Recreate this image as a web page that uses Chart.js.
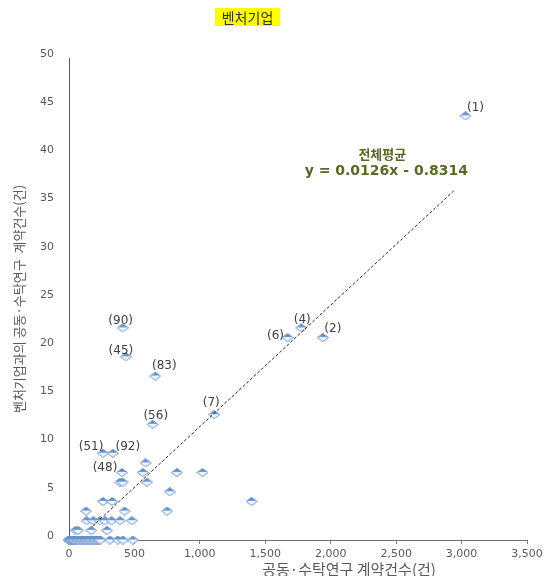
<!DOCTYPE html>
<html>
<head>
<meta charset="utf-8">
<script src="https://cdn.jsdelivr.net/npm/chart.js@4/dist/chart.umd.min.js"></script>
<style>
  html, body { margin: 0; padding: 0; background: #ffffff; }
  #wrap { width: 552px; height: 576px; }
</style>
</head>
<body>
<div id="wrap"><canvas id="chart" width="552" height="576"></canvas></div>
<script>
// Labelled institutions: total joint/commissioned contracts vs. contracts with venture firms
const labelledIds     = ['(1)', '(2)', '(4)', '(6)', '(7)', '(90)', '(45)', '(83)', '(56)', '(51)', '(92)', '(48)'];
const labelledTotal   = [3030, 1940, 1775, 1670, 1110, 410, 435, 660, 640, 260, 335, 405];
const labelledVenture = [44, 21, 22, 21, 13, 22, 19, 17, 12, 9, 9, 7];

// Remaining institutions
const otherTotal = [
  0, 0, 0, 5, 10, 15, 20, 25, 30, 35, 40, 50, 60, 70, 80, 90, 100, 110, 120, 130,
  140, 150, 160, 170, 180, 190, 200, 210, 220, 230, 240, 312, 373, 412, 488,
  50, 70, 170, 290,
  135, 185, 235, 275, 325, 390, 480,
  130, 425, 750,
  260, 330, 1395,
  770,
  390, 410, 595,
  565, 825, 1020,
  585
];
const otherVenture = [
  0, 0, 0, 0, 0, 0, 0, 0, 0, 0, 0, 0, 0, 0, 0, 0, 0, 0, 0, 0,
  0, 0, 0, 0, 0, 0, 0, 0, 0, 0, 0, 0, 0, 0, 0,
  1, 1, 1, 1,
  2, 2, 2, 2, 2, 2, 2,
  3, 3, 3,
  4, 4, 4,
  5,
  6, 6, 6,
  7, 7, 7,
  8
];

// Axis ticks
const xTicks = [0, 500, 1000, 1500, 2000, 2500, 3000, 3500];
const yTicks = [0, 5, 10, 15, 20, 25, 30, 35, 40, 45, 50];

// Overall trend: y = 0.0126x - 0.8314
const trendSlope = 0.0126;
const trendIntercept = -0.8314;
const trendStart = 180;
const trendEnd = 2950;

const chartTitle = '벤처기업';
const xTitle = '공동·수탁연구 계약건수(건)';
const yTitle = '벤처기업과의 공동·수탁연구  계약건수(건)';
const trendName = '전체평균';
const trendText = 'y = 0.0126x - 0.8314';

const CJK = '"Noto Sans CJK KR", "Noto Sans", sans-serif';
const LATIN = '"DejaVu Sans", Verdana, sans-serif';

// Label placement around each marker (pixels)
const labelOffsets = {
  '(1)': [10, -8], '(2)': [10, -9], '(4)': [1, -8], '(6)': [-12, -2], '(7)': [-3, -12],
  '(90)': [-2, -7], '(45)': [-5, -6], '(83)': [9, -10], '(56)': [3, -8],
  '(51)': [-12, -6], '(92)': [15, -6], '(48)': [-17, -5]
};

// Half-shaded diamond marker
function makeDiamond() {
  const w = 12, h = 9;
  const c = document.createElement('canvas');
  c.width = w; c.height = h;
  const g = c.getContext('2d');
  g.beginPath();
  g.moveTo(w / 2, 0.5);
  g.lineTo(w - 0.5, h / 2);
  g.lineTo(w / 2, h - 0.5);
  g.lineTo(0.5, h / 2);
  g.closePath();
  const grd = g.createLinearGradient(0, 0, 0, h);
  grd.addColorStop(0, '#4574b3');
  grd.addColorStop(0.5, '#7ea6d8');
  grd.addColorStop(0.5, '#eef4fb');
  grd.addColorStop(1, '#ffffff');
  g.fillStyle = grd;
  g.fill();
  g.strokeStyle = '#6b95cc';
  g.lineWidth = 1;
  g.stroke();
  return c;
}
const diamond = makeDiamond();

const toPoints = (xs, ys) => xs.map((x, i) => ({ x: x, y: ys[i] }));
const trendY = x => trendSlope * x + trendIntercept;

const annotations = {
  id: 'annotations',
  afterDatasetsDraw(chart) {
    const ctx = chart.ctx;
    const xs = chart.scales.x, ys = chart.scales.y;
    ctx.save();
    // point labels
    ctx.font = '12px ' + LATIN;
    ctx.fillStyle = '#404040';
    ctx.textAlign = 'center';
    ctx.textBaseline = 'middle';
    labelledIds.forEach((id, i) => {
      const px = xs.getPixelForValue(labelledTotal[i]);
      const py = ys.getPixelForValue(labelledVenture[i]);
      const off = labelOffsets[id] || [0, -8];
      ctx.fillText(id, px + off[0], py + off[1]);
    });
    // trend label
    const tx = xs.getPixelForValue(2425);
    const ty = ys.getPixelForValue(40);
    ctx.fillStyle = '#56692a';
    ctx.font = 'bold 13px ' + CJK;
    ctx.fillText(trendName, tx - 4, ty);
    ctx.font = 'bold 14px ' + LATIN;
    ctx.fillText(trendText, tx, ty + 17);
    ctx.restore();
  },
  afterDraw(chart) {
    const ctx = chart.ctx;
    ctx.save();
    // highlighted title
    ctx.font = '14px ' + CJK;
    const tw = ctx.measureText(chartTitle).width;
    const cx = 247.5, cy = 17;
    ctx.fillStyle = '#ffff00';
    ctx.fillRect(cx - tw / 2 - 7, cy - 9, tw + 14, 18);
    ctx.fillStyle = '#333333';
    ctx.textAlign = 'center';
    ctx.textBaseline = 'middle';
    ctx.fillText(chartTitle, cx, cy + 1);
    // x-axis title
    ctx.font = '15px ' + CJK;
    ctx.fillStyle = '#595959';
    ctx.fillText(xTitle, 349, 569);
    ctx.restore();
  }
};

new Chart(document.getElementById('chart'), {
  type: 'scatter',
  data: {
    datasets: [
      {
        label: 'trend',
        data: [{ x: trendStart, y: trendY(trendStart) }, { x: trendEnd, y: trendY(trendEnd) }],
        showLine: true,
        borderColor: '#2b2b2b',
        borderWidth: 1,
        borderDash: [3, 2],
        pointRadius: 0,
        order: 0
      },
      {
        label: 'others',
        data: toPoints(otherTotal, otherVenture),
        pointStyle: diamond,
        pointRadius: 5,
        clip: false,
        order: 1
      },
      {
        label: 'labelled',
        data: toPoints(labelledTotal, labelledVenture),
        pointStyle: diamond,
        pointRadius: 5,
        clip: false,
        order: 1
      }
    ]
  },
  options: {
    responsive: false,
    devicePixelRatio: 1,
    animation: false,
    layout: { padding: { top: 58, right: 25, left: 0, bottom: 0 } },
    plugins: {
      legend: { display: false },
      tooltip: { enabled: false },
      title: { display: false }
    },
    scales: {
      x: {
        type: 'linear',
        min: 0,
        max: 3500,
        afterBuildTicks: s => { s.ticks = xTicks.map(v => ({ value: v })); },
        afterFit: s => { s.height = 36; },
        grid: { display: true, drawOnChartArea: false, drawTicks: true, tickLength: 4, color: '#7f7f7f' },
        border: { display: true, color: '#6f6f6f', width: 1 },
        ticks: {
          padding: 4,
          maxRotation: 0,
          color: '#595959',
          font: { family: LATIN, size: 11 },
          callback: v => v.toLocaleString('en-US')
        }
      },
      y: {
        type: 'linear',
        min: 0,
        max: 50,
        afterBuildTicks: s => { s.ticks = yTicks.map(v => ({ value: v })); },
        afterFit: s => { s.width = 69; },
        grid: { display: true, drawOnChartArea: false, drawTicks: true, tickLength: 6, color: 'rgba(0,0,0,0)' },
        border: { display: true, color: '#595959', width: 1 },
        ticks: {
          padding: 9,
          labelOffset: -4,
          color: '#595959',
          font: { family: LATIN, size: 11 }
        },
        title: {
          display: true,
          text: yTitle,
          color: '#595959',
          font: { family: CJK, size: 13 },
          padding: { top: 11, bottom: 0 }
        }
      }
    }
  },
  plugins: [annotations]
});
</script>
</body>
</html>
